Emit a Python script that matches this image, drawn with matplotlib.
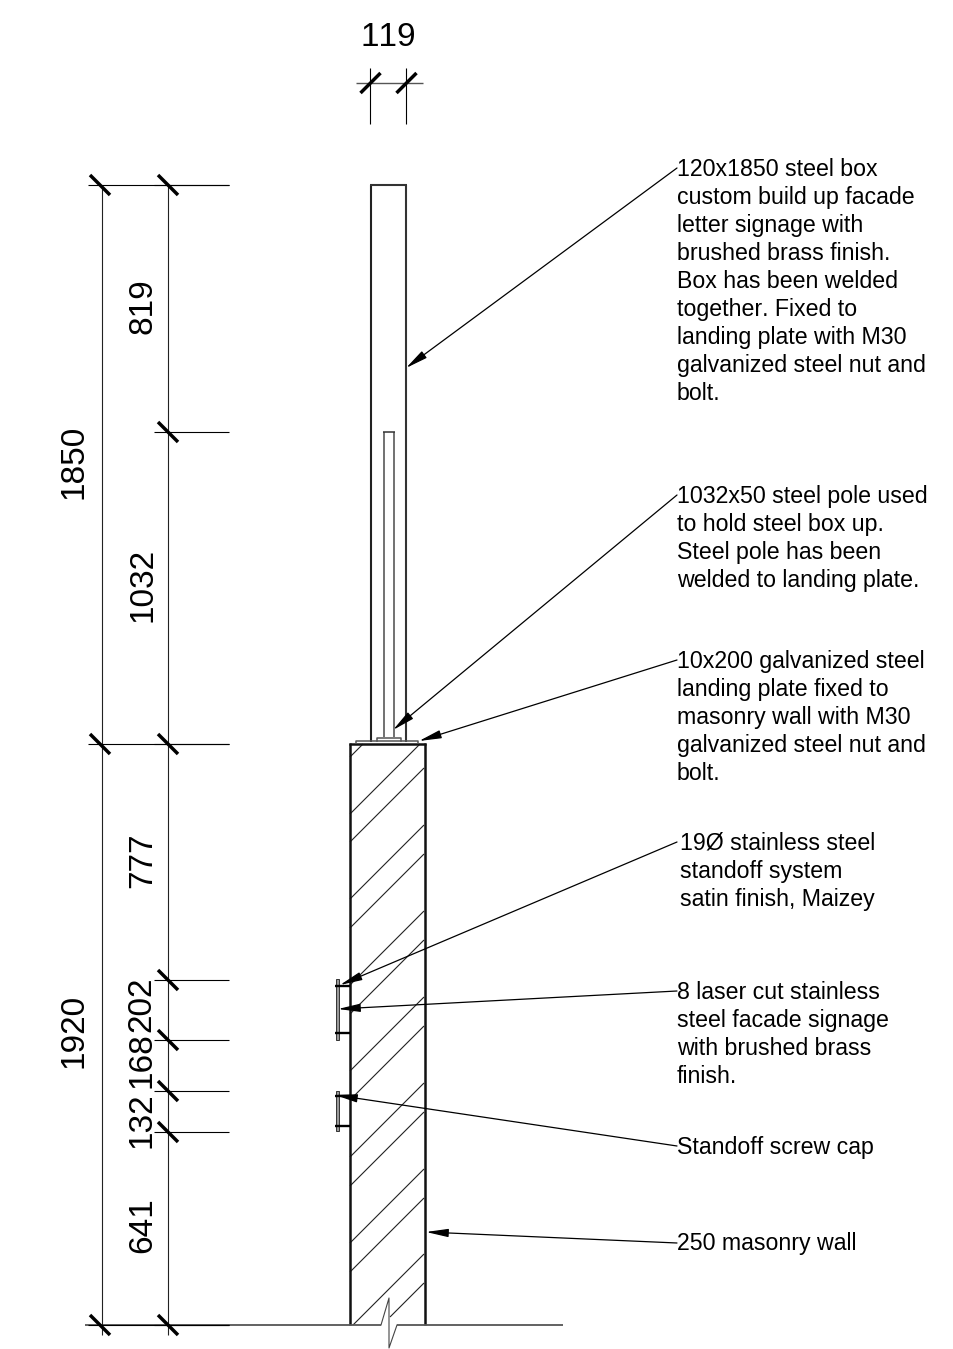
import matplotlib
matplotlib.use('Agg')
import matplotlib.pyplot as plt

plt.rcParams['font.family'] = ['Liberation Sans', 'DejaVu Sans']
# the drawing has no kerning in its numbers
plt.rcParams['text.kerning_factor'] = 20

# everything in pixels, y goes down
dim_ticks_left = [185, 744, 1325]
dim_ticks_right = [185, 432, 744, 980, 1040, 1091, 1132, 1325]
left_dim_labels = ['1850', '1920']
left_label_pos = [(74, 462), (74, 1031)]
right_dim_labels = ['819', '1032', '777', '202', '168', '132', '641']
right_label_pos = [(143, 306), (143, 585), (143, 860), (142, 1004), (142, 1060), (142, 1120), (143, 1225)]

notes = [
    '120x1850 steel box\ncustom build up facade\nletter signage with\nbrushed brass finish.\nBox has been welded\ntogether. Fixed to\nlanding plate with M30\ngalvanized steel nut and\nbolt.',
    '1032x50 steel pole used\nto hold steel box up.\nSteel pole has been\nwelded to landing plate.',
    '10x200 galvanized steel\nlanding plate fixed to\nmasonry wall with M30\ngalvanized steel nut and\nbolt.',
    '19\u00d8 stainless steel\nstandoff system\nsatin finish, Maizey',
    '8 laser cut stainless\nsteel facade signage\nwith brushed brass\nfinish.',
    'Standoff screw cap',
    '250 masonry wall',
]
note_pos = [(677, 158), (677, 485), (677, 650), (680, 832), (677, 981), (677, 1136), (677, 1232)]
leader_from = [(677, 168), (677, 495), (677, 660), (677, 842), (677, 991), (677, 1146), (677, 1243)]
leader_to = [(406, 368), (393, 730), (419, 741), (340, 985), (338, 1009), (335, 1095), (426, 1232)]

# wall hatching, as x + y of each 45 degree line
hatch_sums = [1107, 1164, 1192, 1249, 1278, 1335, 1364, 1421, 1450, 1507, 1536, 1593, 1622, 1678, 1707]

standoff_plates = [(979, 1040), (1091, 1131)]
standoff_bolts = [986, 1033, 1096, 1126]

fig = plt.figure(figsize=(9.54, 13.49), dpi=100)
ax = fig.add_axes([0, 0, 1, 1])
ax.set_xlim(0, 954)
ax.set_ylim(1349, 0)
ax.axis('off')


def line(p, q, lw=0.9, c='black'):
    ax.plot([p[0], q[0]], [p[1], q[1]], color=c, lw=lw, solid_capstyle='butt')


def tick(x, y, up=False):
    d = -10 if up else 10
    line((x - 10, y - d), (x + 10, y + d), lw=2.5)


# hatching in the wall
for s in hatch_sums:
    x0 = max(350, s - 1325)
    if s == 1707:
        x0 = 390  # stops at the break line
    x1 = min(424, s - 744)
    line((x0, s - x0), (x1, s - x1), lw=0.8, c='#222222')

# masonry wall
line((350, 743), (350, 1325), lw=1.8, c='#111111')
line((425, 743), (425, 1325), lw=1.8, c='#111111')
line((349, 744), (426, 744), lw=1.8, c='#111111')

# ground line with the break
ax.plot([381, 389, 389, 397], [1325, 1298, 1348, 1325], color='#444444', lw=0.8)
line((85, 1325), (381, 1325), lw=1.3, c='#555555')
line((397, 1325), (563, 1325), lw=1.3, c='#555555')

# steel box and pole
line((371, 185), (371, 742), lw=1.5, c='#222222')
line((406, 185), (406, 742), lw=1.5, c='#333333')
line((370, 185), (407, 185), lw=1.5, c='#333333')
line((384, 432), (384, 737), lw=1.3, c='#666666')
line((394, 432), (394, 737), lw=1.3, c='#666666')
line((383, 432), (395, 432), lw=1.1, c='#333333')

# landing plate
ax.plot([356, 356, 418, 418], [743, 741, 741, 743], color='#555555', lw=1.1)
ax.plot([377, 377, 401, 401], [741, 738, 738, 741], color='#555555', lw=1.1)

# standoffs
for y0, y1 in standoff_plates:
    ax.fill([336, 336, 339, 339], [y0, y1, y1, y0], facecolor='#999999', edgecolor='#333333', lw=0.7)
for y in standoff_bolts:
    line((335, y), (350, y), lw=1.7)

# dimension lines
line((102, 185), (102, 1335), lw=0.8, c='#222222')
line((168, 185), (168, 1335), lw=0.8, c='#222222')
for y in dim_ticks_left:
    line((88, y), (229, y), lw=0.8)
    tick(100, y)
for y in dim_ticks_right:
    line((154, y), (229, y), lw=0.8)
    tick(168, y)
for s, (x, y) in zip(left_dim_labels, left_label_pos):
    ax.text(x, y, s, rotation=90, fontsize=24, ha='center', va='center')
for s, (x, y) in zip(right_dim_labels, right_label_pos):
    ax.text(x, y, s, rotation=90, fontsize=24, ha='center', va='center')

# top dimension
line((356, 83), (423, 83), lw=1, c='#555555')
line((370, 68), (370, 124), lw=0.8)
line((406, 68), (406, 124), lw=0.8)
tick(370.5, 83, up=True)
tick(406.5, 83, up=True)
ax.text(388, 38, '119', fontsize=24, ha='center', va='center')

# notes with leaders
for s, pos, p, q in zip(notes, note_pos, leader_from, leader_to):
    ax.text(pos[0], pos[1], s, fontsize=16.7, ha='left', va='top', linespacing=1.275)
    ax.annotate('', xy=q, xytext=p,
                arrowprops=dict(arrowstyle='-|>,head_width=0.25,head_length=1.35', lw=0.9,
                                color='black', shrinkA=0, shrinkB=0, mutation_scale=10))

plt.savefig('out.png', dpi=100)
